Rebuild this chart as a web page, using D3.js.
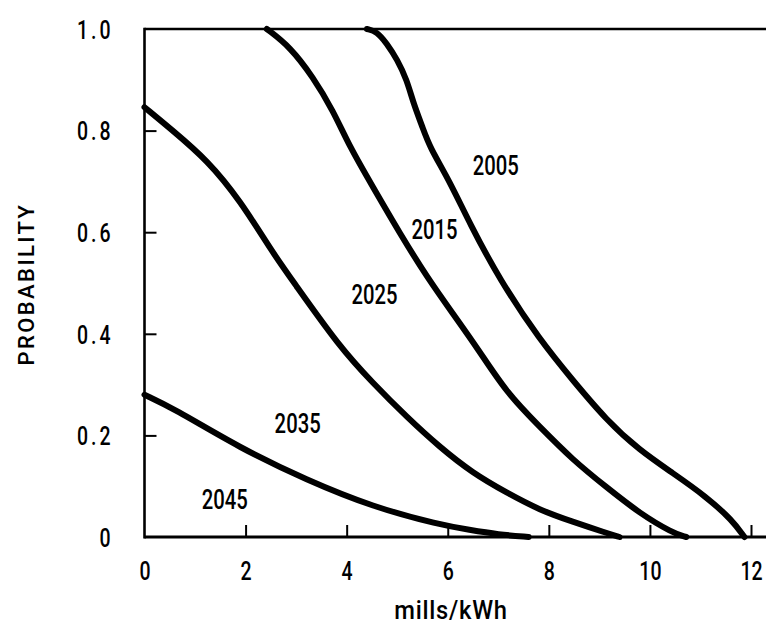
<!DOCTYPE html>
<html>
<head>
<meta charset="utf-8">
<script src="https://cdn.jsdelivr.net/npm/d3@7"></script>
<style>
  html, body { margin: 0; padding: 0; background: #fff; }
  svg { display: block; }
  text { font-family: Roboto, "DejaVu Sans Condensed", sans-serif; font-weight: 500; fill: #000; }
</style>
</head>
<body>
<svg id="chart" width="766" height="633"></svg>
<script>
// ---- data ----
const xTicks = [0, 2, 4, 6, 8, 10, 12];
const yTicks = [0, 0.2, 0.4, 0.6, 0.8, 1.0];
const yTickLabels = ["0", "0.2", "0.4", "0.6", "0.8", "1.0"];
const xTitle = "mills/kWh";
const yTitle = "PROBABILITY";

const years = ["2005", "2015", "2025", "2035"];
const x2005 = [4.4, 4.6, 4.79, 5.0, 5.19, 5.32, 5.5, 5.64, 6.04, 6.43, 7.03, 7.82, 8.47, 9.14, 9.79, 10.45, 11.12, 11.63, 11.87];
const p2005 = [1.0, 0.995, 0.972, 0.94, 0.90, 0.854, 0.807, 0.768, 0.70, 0.618, 0.506, 0.388, 0.309, 0.23, 0.171, 0.126, 0.079, 0.033, 0];
const x2015 = [2.42, 2.88, 3.33, 3.73, 4.06, 4.52, 5.05, 5.6, 6.1, 6.6, 7.17, 7.82, 8.47, 9.14, 9.79, 10.45, 10.72];
const p2015 = [1.0, 0.965, 0.906, 0.84, 0.768, 0.689, 0.598, 0.51, 0.44, 0.37, 0.283, 0.217, 0.152, 0.098, 0.047, 0.008, 0];
const x2025 = [0, 0.56, 1.24, 1.89, 2.54, 2.92, 3.86, 4.52, 5.19, 5.84, 6.49, 7.17, 7.82, 8.47, 9.14, 9.4];
const p2025 = [0.846, 0.80, 0.742, 0.663, 0.559, 0.506, 0.374, 0.303, 0.236, 0.177, 0.126, 0.087, 0.053, 0.03, 0.008, 0];
const x2035 = [0, 0.56, 1.89, 3.21, 4.52, 5.84, 6.43, 7.0, 7.6];
const p2035 = [0.28, 0.254, 0.175, 0.112, 0.059, 0.024, 0.014, 0.005, 0];

// curve labels (2045 lies on the axis: label only)
const labelYears = ["2005", "2015", "2025", "2035", "2045"];
const labelX = [6.95, 5.74, 4.55, 3.03, 1.59];
const labelP = [0.732, 0.606, 0.478, 0.224, 0.075];

// ---- layout ----
const svg = d3.select("#chart");
const x = d3.scaleLinear().domain([0, 12]).range([144.5, 751]);
const y = d3.scaleLinear().domain([0, 1]).range([537, 29]);
const frameRight = 766;
const SX = 0.75; // horizontal condensing of the typewriter-like lettering

// frame: left, top, bottom (open at right, cut by page edge)
const frame = svg.append("g").attr("stroke", "#000").attr("fill", "none");
frame.append("line").attr("x1", x(0)).attr("x2", x(0)).attr("y1", y(1) - 1.3).attr("y2", y(0) + 1.5).attr("stroke-width", 2.6);
frame.append("line").attr("x1", x(0)).attr("x2", frameRight).attr("y1", y(1)).attr("y2", y(1)).attr("stroke-width", 2.6);
frame.append("line").attr("x1", x(0)).attr("x2", frameRight).attr("y1", y(0)).attr("y2", y(0)).attr("stroke-width", 3);

// axes with inward ticks
const xAxis = d3.axisBottom(x).tickValues(xTicks).tickSizeInner(-12).tickSizeOuter(0).tickFormat(d3.format("d"));
const gx = svg.append("g").attr("transform", `translate(0,${y(0)})`).call(xAxis);
gx.select(".domain").remove();
gx.selectAll(".tick line").attr("stroke", "#000").attr("stroke-width", 2).filter(d => d === 0).remove();
gx.selectAll(".tick text").attr("font-size", 26).attr("font-family", null)
  .attr("y", 0).attr("dy", "0.36em").attr("transform", `translate(0,34) scale(${SX},1)`);

const yAxis = d3.axisLeft(y).tickValues(yTicks).tickSizeInner(-12).tickSizeOuter(0)
  .tickFormat((d, i) => yTickLabels[i]);
const gy = svg.append("g").attr("transform", `translate(${x(0)},0)`).call(yAxis);
gy.select(".domain").remove();
gy.selectAll(".tick line").attr("stroke", "#000").attr("stroke-width", 2).filter(d => d === 0 || d === 1).remove();
gy.selectAll(".tick text").attr("font-size", 26).attr("font-family", null).attr("letter-spacing", 4)
  .attr("x", 0).attr("dy", "0.36em").attr("transform", `translate(-31,0) scale(${SX},1)`);

// axis titles
svg.append("text").attr("transform", `translate(451,610) scale(0.95,1)`).attr("text-anchor", "middle").attr("dy", "0.35em")
  .attr("font-size", 25).attr("letter-spacing", 0.8).text(xTitle);
svg.append("text").attr("transform", "translate(26,284) rotate(-90)").attr("text-anchor", "middle").attr("dy", "0.35em")
  .attr("font-size", 22).attr("letter-spacing", 2.4).text(yTitle);

// curves
const series = [
  { name: years[0], xs: x2005, ps: p2005 },
  { name: years[1], xs: x2015, ps: p2015 },
  { name: years[2], xs: x2025, ps: p2025 },
  { name: years[3], xs: x2035, ps: p2035 }
];
const line = d3.line().x(d => x(d[0])).y(d => y(d[1])).curve(d3.curveBasis);
svg.append("g").selectAll("path").data(series).join("path")
  .attr("d", s => line(s.xs.map((v, i) => [v, s.ps[i]])))
  .attr("fill", "none").attr("stroke", "#000").attr("stroke-width", 6)
  .attr("stroke-linecap", "round").attr("stroke-linejoin", "round");

// curve labels
svg.append("g").selectAll("text").data(labelYears).join("text")
  .attr("transform", (d, i) => `translate(${x(labelX[i])},${y(labelP[i])}) scale(${SX},1)`)
  .attr("text-anchor", "middle").attr("dy", "0.36em").attr("font-size", 27)
  .text(d => d);
</script>
</body>
</html>
